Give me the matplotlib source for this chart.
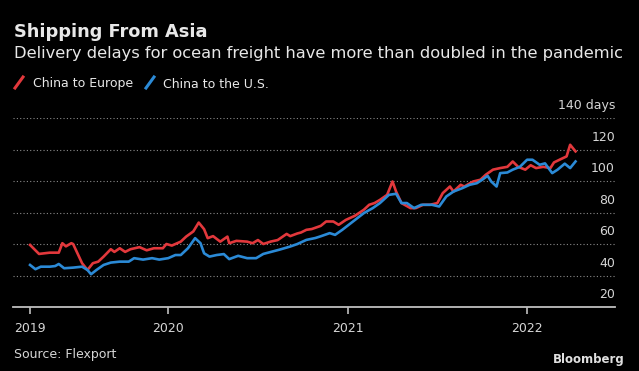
import matplotlib
matplotlib.use("Agg")
import matplotlib.pyplot as plt
from matplotlib.lines import Line2D

# Flexport ocean timeliness, days
years_eu = [2019.23, 2019.28, 2019.34, 2019.39, 2019.41, 2019.43, 2019.46, 2019.47, 2019.52, 2019.55,
            2019.58, 2019.61, 2019.64, 2019.68, 2019.70, 2019.73, 2019.76, 2019.79, 2019.84, 2019.88,
            2019.92, 2019.97, 2019.99,
            2020.02, 2020.07, 2020.10, 2020.14, 2020.17, 2020.20, 2020.22, 2020.25, 2020.29, 2020.33,
            2020.34, 2020.38, 2020.44, 2020.47, 2020.50, 2020.53, 2020.57, 2020.61, 2020.66, 2020.68,
            2020.72, 2020.74, 2020.77, 2020.80, 2020.85, 2020.88, 2020.92, 2020.95, 2020.99,
            2021.04, 2021.09, 2021.12, 2021.15, 2021.18, 2021.22, 2021.25, 2021.27, 2021.30, 2021.35,
            2021.38, 2021.42, 2021.46, 2021.50, 2021.53, 2021.57, 2021.59, 2021.63, 2021.65, 2021.70,
            2021.74, 2021.77, 2021.81, 2021.85, 2021.89, 2021.92, 2021.95, 2021.99,
            2022.02, 2022.05, 2022.09, 2022.13, 2022.15, 2022.19, 2022.22, 2022.24, 2022.27]
days_eu = [59.4, 53.7, 54.5, 54.5, 60.5, 58.5, 60.5, 60.0, 47.8, 43.5,
           47.8, 48.8, 52.0, 56.7, 55.0, 57.3, 55.0, 56.7, 58.0, 56.0,
           57.3, 57.3, 60.0,
           59.0, 61.5, 64.7, 68.0, 73.6, 69.4, 63.7, 65.0, 61.5, 64.7,
           60.5, 62.0, 61.5, 60.5, 62.5, 60.0, 61.5, 62.5, 66.4, 65.0,
           66.7, 67.3, 69.0, 69.5, 71.5, 74.3, 74.3, 72.2, 75.3,
           77.9, 81.7, 84.9, 86.0, 88.0, 91.2, 99.7, 93.3, 86.0, 82.8,
           82.8, 84.9, 84.9, 86.0, 92.3, 96.5, 93.3, 97.6, 96.5, 99.7,
           100.8, 104.0, 107.2, 108.2, 109.0, 112.4, 109.0, 107.2,
           110.0, 108.2, 109.0, 108.2, 111.8, 114.0, 115.6, 123.0, 118.8]

years_us = [2019.23, 2019.26, 2019.29, 2019.34, 2019.37, 2019.39, 2019.42, 2019.47, 2019.52, 2019.55,
            2019.57, 2019.60, 2019.64, 2019.68, 2019.73, 2019.78, 2019.81, 2019.86, 2019.91, 2019.95,
            2020.00, 2020.04, 2020.07, 2020.11, 2020.15, 2020.18, 2020.20, 2020.23, 2020.27, 2020.31,
            2020.34, 2020.39, 2020.44, 2020.49, 2020.53, 2020.58, 2020.62, 2020.68, 2020.72, 2020.77,
            2020.82, 2020.85, 2020.90, 2020.93, 2020.97,
            2021.03, 2021.09, 2021.14, 2021.18, 2021.23, 2021.27, 2021.30, 2021.33, 2021.37, 2021.41,
            2021.47, 2021.51, 2021.55, 2021.59, 2021.64, 2021.68, 2021.72, 2021.75, 2021.78, 2021.80,
            2021.83, 2021.85, 2021.89, 2021.92, 2021.96,
            2022.00, 2022.03, 2022.07, 2022.10, 2022.14, 2022.17, 2022.21, 2022.24, 2022.27]
days_us = [46.7, 44.0, 45.6, 45.6, 46.0, 47.3, 44.6, 45.0, 45.6, 43.5,
           40.8, 43.5, 46.7, 48.2, 48.8, 48.8, 51.0, 50.1, 51.0, 50.1,
           51.0, 53.0, 53.0, 57.3, 63.7, 60.5, 54.1, 52.0, 53.0, 53.6,
           50.4, 52.5, 51.0, 51.0, 53.7, 55.2, 56.4, 58.4, 60.0, 62.6,
           63.8, 64.9, 66.9, 65.8, 69.0,
           74.3, 79.6, 82.8, 86.0, 91.2, 91.9, 86.0, 86.0, 82.8, 84.9,
           84.9, 83.8, 90.2, 93.3, 95.5, 97.6, 98.6, 100.8, 103.3, 99.7,
           96.5, 105.0, 105.4, 107.2, 109.0,
           113.5, 113.5, 110.3, 111.2, 105.0, 107.2, 111.0, 108.2, 112.4]

year_labels = ["2019", "2020", "2021", "2022"]
year_ticks = [years_eu[0], 2020, 2021, 2022]
y_values = [20, 40, 60, 80, 100, 120, 140]
y_labels = ["20", "40", "60", "80", "100", "120", "140 days"]

RED = "#e2383c"
BLUE = "#2b8ad6"
TXT = "#e8e8e8"
GREY = "#bfbfbf"

plt.rcParams["font.family"] = ["DejaVu Sans"]

fig = plt.figure(figsize=(6.39, 3.71), dpi=100, facecolor="black")
W, H = 639.0, 371.0
ax = fig.add_axes([13 / W, 1 - 307 / H, (615 - 13) / W, (307 - 118) / H])
ax.set_facecolor("black")

ax.plot(years_us, days_us, color=BLUE, lw=1.9, solid_joinstyle="round", zorder=3)
ax.plot(years_eu, days_eu, color=RED, lw=1.9, solid_joinstyle="round", zorder=2)

ax.set_xlim(2019.135, 2022.49)
ax.set_ylim(20, 140)

for s in ["top", "right", "left"]:
    ax.spines[s].set_visible(False)
ax.spines["bottom"].set_color(GREY)
ax.spines["bottom"].set_linewidth(1.3)

ax.set_xticks(year_ticks)
ax.set_xticklabels(year_labels)
ax.tick_params(axis="x", colors=GREY, labelcolor="#d6d6d6", length=5, width=1.2,
               pad=6, labelsize=9)
ax.set_yticks(y_values)
ax.tick_params(axis="y", length=0, labelleft=False)
ax.yaxis.grid(True, color="#8a8a8a", linestyle=(0, (1, 2)), linewidth=0.8)
ax.set_axisbelow(True)

for v, lab in zip(y_values, y_labels):
    ax.annotate(lab, xy=(1, v), xycoords=("axes fraction", "data"),
                xytext=(0, 4), textcoords="offset points",
                ha="right", va="bottom", color="#d6d6d6", fontsize=9)

# header
fig.text(14 / W, 1 - 36.7 / H, "Shipping From Asia", color=TXT, fontsize=12.8,
         fontweight="bold", va="baseline")
fig.text(14 / W, 1 - 58.3 / H,
         "Delivery delays for ocean freight have more than doubled in the pandemic",
         color=TXT, fontsize=11.7, va="baseline")

# legend: slanted strokes like Bloomberg
fig.add_artist(Line2D([15 / W, 23 / W], [1 - 88 / H, 1 - 77 / H], color=RED, lw=2.2))
fig.text(33 / W, 1 - 87.5 / H, "China to Europe", color=TXT, fontsize=9, va="baseline")
fig.add_artist(Line2D([146 / W, 154 / W], [1 - 88 / H, 1 - 77 / H], color=BLUE, lw=2.2))
fig.text(163 / W, 1 - 87.5 / H, "China to the U.S.", color=TXT, fontsize=9, va="baseline")

# footer
fig.text(14 / W, 1 - 358 / H, "Source: Flexport", color="#d6d6d6", fontsize=9, va="baseline")
fig.text(625 / W, 1 - 363 / H, "Bloomberg", color="#e0e0e0", fontsize=8.5,
         fontweight="bold", ha="right", va="baseline")

fig.savefig("out.png", dpi=100, facecolor=fig.get_facecolor())
